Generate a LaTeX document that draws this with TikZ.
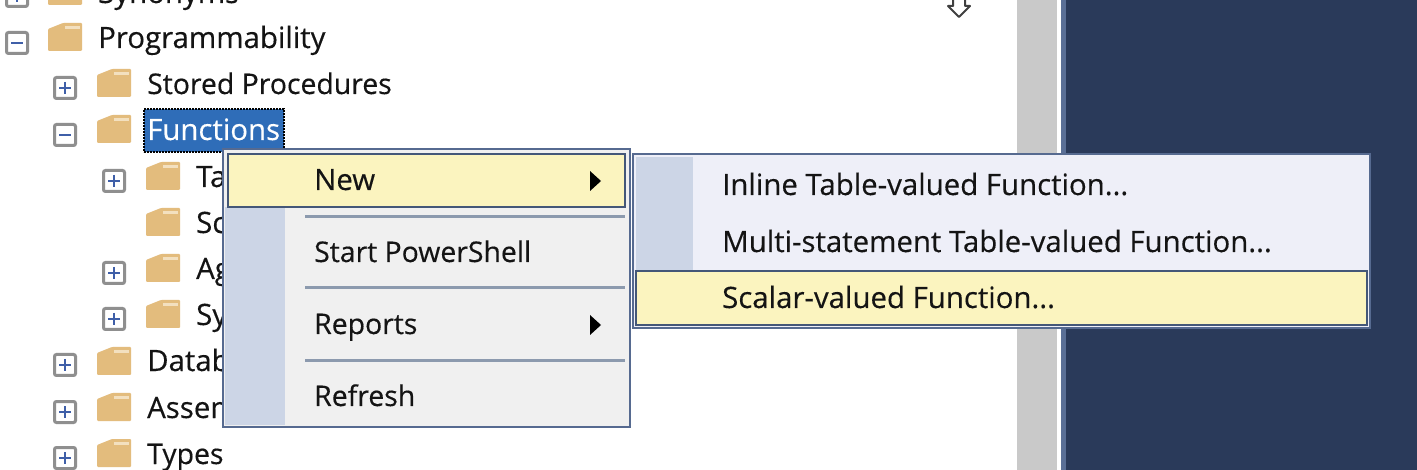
\documentclass[tikz,border=0pt]{standalone}
\usepackage{fontspec}
\setmainfont{Open Sans}[RawFeature={embolden=0.35}]
\usepackage{xcolor}
\definecolor{navy}{HTML}{2A3A5A}
\definecolor{navyedge}{HTML}{5A6F96}
\definecolor{menuedge}{HTML}{566A90}
\definecolor{menufill}{HTML}{F0F0F0}
\definecolor{subfill}{HTML}{EEEFF8}
\definecolor{strip}{HTML}{CCD5E6}
\definecolor{hilite}{HTML}{FBF4BF}
\definecolor{hiedge}{HTML}{445778}
\definecolor{sepline}{HTML}{8C9AAE}
\definecolor{foldertan}{HTML}{E3BC7D}
\definecolor{folderlite}{HTML}{F3E0BF}
\definecolor{selblue}{HTML}{2F6DB8}
\definecolor{barfill}{HTML}{C9C9C9}
\definecolor{boxedge}{HTML}{8F8F8F}
\definecolor{signblue}{HTML}{3F5FA8}
\usetikzlibrary{positioning}

\begin{document}
\begin{tikzpicture}[
  x=1pt, y=-1pt,
  font=\fontsize{29.4}{32}\selectfont,
  lbl/.style={anchor=base west, inner sep=0pt, text=black!92},
  tight/.style={font=\fontsize{28.4}{32}\selectfont},
  panel/.style={draw=menuedge, line width=2.8pt},
  hibox/.style={draw=hiedge, line width=2.8pt, fill=hilite},
  sepbar/.style={draw=sepline, line width=3pt},
  folder/.pic={
    \fill[foldertan, rounded corners=1pt] (0,6) -- (15,0) -- (34,0) -- (34,28) -- (0,28) -- cycle;
    \fill[folderlite] (17,3) rectangle (32,6);
  },
  plusbox/.pic={
    \draw[boxedge, line width=3pt, fill=white, rounded corners=2pt] (-10.5,-10.5) rectangle (10.5,10.5);
    \draw[signblue, line width=2.5pt] (-6,0) -- (6,0) (0,-6) -- (0,6);
  },
  minusbox/.pic={
    \draw[boxedge, line width=3pt, fill=white, rounded corners=2pt] (-10.5,-10.5) rectangle (10.5,10.5);
    \draw[signblue, line width=2.5pt] (-6,0) -- (6,0);
  }
]
\useasboundingbox (0,0) rectangle (1417,470);
\clip (0,0) rectangle (1417,470);
\fill[white] (0,0) rectangle (1417,470);

% right hand side of the window
\fill[barfill] (1017,0) rectangle (1057,470);
\fill[navyedge] (1061,0) rectangle (1066,470);
\fill[navy] (1066,0) rectangle (1417,470);
\draw[black!75, line width=2pt, fill=white, line join=round] (953,-4) -- (953,6) -- (948,6) -- (959,17) -- (970,6) -- (965,6) -- (965,-4);

% tree
\pic at (17,-4) {plusbox};
\pic at (48,-23) {folder};
\node[lbl] (synonyms) at (98,3) {Synonyms};
\pic at (17,43) {minusbox};
\pic at (48,23) {folder};
\node[lbl] (prog) at (98,48) {Programmability};
\pic at (65,88) {plusbox};
\pic at (97,69) {folder};
\node[lbl, tight] (stored) at (147,94) {Stored Procedures};
\pic at (65,135) {minusbox};
\pic at (97,115) {folder};
\node[fill=selblue, draw=black, densely dotted, line width=2pt, minimum width=140pt, minimum height=43pt, inner sep=0pt] (selbox) at (213.5,131) {};
\node[lbl, text=white] (functions) at (147,140) {Functions};
\pic at (114,181) {plusbox};
\pic at (146,162) {folder};
\node[lbl] (tables) at (196,187) {Ta};
\pic at (146,208) {folder};
\node[lbl] (scalar) at (196,233) {Sc};
\pic at (114,273) {plusbox};
\pic at (146,254) {folder};
\node[lbl] (aggr) at (196,279) {Ag};
\pic at (114,319) {plusbox};
\pic at (146,300) {folder};
\node[lbl] (sys) at (196,325) {Sy};
\pic at (65,365) {plusbox};
\pic at (97,347) {folder};
\node[lbl] (datab) at (147,371) {Datab};
\pic at (65,412) {plusbox};
\pic at (97,393) {folder};
\node[lbl] (assem) at (147,418) {Assem};
\pic at (65,458) {plusbox};
\pic at (97,439) {folder};
\node[lbl, tight] (types) at (147,464) {Types};

% first menu
\draw[panel, fill=menufill] (223,149) rectangle (630,427);
\fill[strip] (225,207) rectangle (285,425);
\draw[hibox] (228,154) rectangle (625,207);
\draw[sepbar] (305,217) -- (625,217);
\draw[sepbar] (305,288) -- (625,288);
\draw[sepbar] (305,361) -- (625,361);
\node[lbl] (new) at (314,190) {New};
\node[lbl, tight] (shell) at (314,262) {Start PowerShell};
\node[lbl, tight] (reports) at (314,334) {Reports};
\node[lbl, tight] (refresh) at (314,406) {Refresh};
\fill[black] (590,171) -- (601,181) -- (590,191) -- cycle;
\fill[black] (590,315) -- (601,325) -- (590,335) -- cycle;

% second menu
\draw[panel, fill=subfill] (633,154) rectangle (1370,328);
\fill[strip] (636,157) rectangle (693,270);
\draw[hibox] (636,271) rectangle (1367,325);
\node[lbl] (inline) at (722,195) {Inline Table-valued Function...};
\node[lbl] (multi) at (722,252) {Multi-statement Table-valued Function...};
\node[lbl] (scalarfn) at (722,308) {Scalar-valued Function...};
\end{tikzpicture}
\end{document}
